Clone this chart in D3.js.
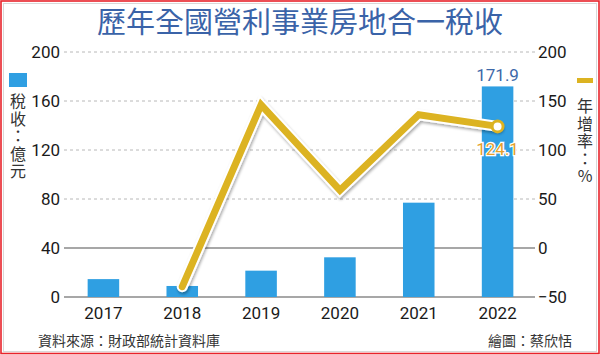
<!DOCTYPE html>
<html><head><meta charset="utf-8">
<script src="https://cdn.jsdelivr.net/npm/d3@7"></script>
<style>
html,body{margin:0;padding:0;background:#fff;}
svg{display:block;}
</style></head>
<body>
<svg id="chart" width="600" height="355"></svg>
<script>
const years = ["2017","2018","2019","2020","2021","2022"];
const taxRevenue = [14.6, 9.0, 21.5, 32.4, 77.0, 171.9];
const growthYears = ["2018","2019","2020","2021","2022"];
const growthRate = [-39.5, 146, 59, 136, 124.1];
const leftTicks = [0,40,80,120,160,200];
const rightTicks = [-50,0,50,100,150,200];

const svg = d3.select("#chart");
const cjk = "'Noto Sans CJK TC','Noto Sans CJK SC',sans-serif";
const num = "Roboto,'Noto Sans',sans-serif";

// frame
svg.append("rect").attr("x",3.5).attr("y",3.5).attr("width",593).attr("height",348)
  .attr("fill","none").attr("stroke","#d8d8d8").attr("stroke-width",1);
svg.append("rect").attr("x",1).attr("y",1).attr("width",598).attr("height",352.5)
  .attr("fill","none").attr("stroke","#e8232b").attr("stroke-width",1.6);

// title
svg.append("text").attr("x",300).attr("y",33).attr("text-anchor","middle")
  .attr("font-family",cjk).attr("font-size",29).attr("font-weight",400)
  .attr("fill","#3a63a8").text("歷年全國營利事業房地合一稅收");

const x = d3.scaleBand().domain(years).range([64,537]).paddingInner(0.6).paddingOuter(0.3);
const yL = d3.scaleLinear().domain([0,200]).range([297,52]);
const yR = d3.scaleLinear().domain([-50,200]).range([297,52]);
const x0 = 64, x1 = 535;

// gridlines
const grid = svg.append("g");
leftTicks.forEach(t=>{
  const solid = t<=40;
  grid.append("line").attr("x1",x0).attr("x2",x1).attr("y1",yL(t)).attr("y2",yL(t))
    .attr("stroke", solid ? "#8a8a8a" : "#b8b8b8")
    .attr("stroke-width", solid ? 1.3 : 1)
    .attr("stroke-dasharray", solid ? null : "3,3");
});

// axes (labels only)
const axL = d3.axisLeft(yL).tickValues(leftTicks).tickSize(0).tickPadding(0);
const gL = svg.append("g").attr("transform","translate(60,0)").call(axL);
gL.select(".domain").remove();
gL.selectAll("text").attr("font-family",num).attr("font-size",17).attr("fill","#1a1a1a");

const axR = d3.axisRight(yR).tickValues(rightTicks).tickSize(0).tickPadding(0);
const gR = svg.append("g").attr("transform","translate(538,0)").call(axR);
gR.select(".domain").remove();
gR.selectAll("text").attr("font-family",num).attr("font-size",17).attr("fill","#1a1a1a");

const axB = d3.axisBottom(x).tickSize(0).tickPadding(0);
const gB = svg.append("g").attr("transform","translate(0,305)").call(axB);
gB.select(".domain").remove();
gB.selectAll("text").attr("font-family",num).attr("font-size",17).attr("fill","#1a1a1a").attr("dy","0.8em");

// bars
svg.append("g").selectAll("rect").data(years).join("rect")
  .attr("x",d=>x(d)).attr("width",x.bandwidth())
  .attr("y",(d,i)=>yL(taxRevenue[i])).attr("height",(d,i)=>yL(0)-yL(taxRevenue[i]))
  .attr("fill","#2f9fe2");

// bar label for 2022
svg.append("text").attr("x",x("2022")+x.bandwidth()/2).attr("y",yL(171.9)-5)
  .attr("text-anchor","middle").attr("font-family",num).attr("font-size",17)
  .attr("fill","#3d68a8").text("171.9");

// line
const defs = svg.append("defs");
const f = defs.append("filter").attr("id","sh").attr("x","-10%").attr("y","-10%").attr("width","120%").attr("height","120%");
f.append("feGaussianBlur").attr("in","SourceAlpha").attr("stdDeviation",1.5);
f.append("feOffset").attr("dx",1).attr("dy",1.5).attr("result","o");
f.append("feComponentTransfer").append("feFuncA").attr("type","linear").attr("slope",0.35);
const m = f.append("feMerge"); m.append("feMergeNode"); m.append("feMergeNode").attr("in","SourceGraphic");

const cx = d => x(d)+x.bandwidth()/2;
const pts = growthYears.map((d,i)=>[cx(d), yR(growthRate[i])]);
const line = d3.line();
const lg = svg.append("g").attr("filter","url(#sh)");
lg.append("path").attr("d",line(pts)).attr("fill","none").attr("stroke","#fff")
  .attr("stroke-width",11).attr("stroke-linejoin","miter").attr("stroke-linecap","round");
lg.append("path").attr("d",line(pts)).attr("fill","none").attr("stroke","#dcb321")
  .attr("stroke-width",7).attr("stroke-linejoin","miter").attr("stroke-linecap","round");
const last = pts[pts.length-1];
svg.append("circle").attr("cx",last[0]).attr("cy",last[1]).attr("r",5.5)
  .attr("fill","#fff").attr("stroke","#dcb321").attr("stroke-width",3);
svg.append("text").attr("x",last[0]).attr("y",last[1]+29).attr("text-anchor","middle")
  .attr("font-family",num).attr("font-size",17).attr("fill","#e6a02c")
  .attr("stroke","#fff").attr("stroke-width",2.5).attr("paint-order","stroke")
  .text("124.1");

// legends (vertical text)
svg.append("rect").attr("x",9).attr("y",73).attr("width",18).attr("height",14).attr("fill","#2f9fe2");
svg.append("text").attr("x",18).attr("y",93)
  .style("writing-mode","vertical-rl").style("text-orientation","upright")
  .attr("font-family",cjk).attr("font-size",16).attr("letter-spacing",1.5)
  .attr("fill","#333").text("稅收：億元");
svg.append("rect").attr("x",577).attr("y",78).attr("width",16).attr("height",5).attr("fill","#dcb321");
svg.append("text").attr("x",585).attr("y",98)
  .style("writing-mode","vertical-rl").style("text-orientation","upright")
  .attr("font-family",cjk).attr("font-size",16).attr("letter-spacing",1.5)
  .attr("fill","#333").text("年增率：%");

// footer
svg.append("text").attr("x",38).attr("y",346).attr("font-family",cjk).attr("font-size",14)
  .attr("fill","#333").text("資料來源：財政部統計資料庫");
svg.append("text").attr("x",572).attr("y",346).attr("text-anchor","end").attr("font-family",cjk).attr("font-size",14)
  .attr("fill","#333").text("繪圖：蔡欣恬");
</script>
</body></html>
